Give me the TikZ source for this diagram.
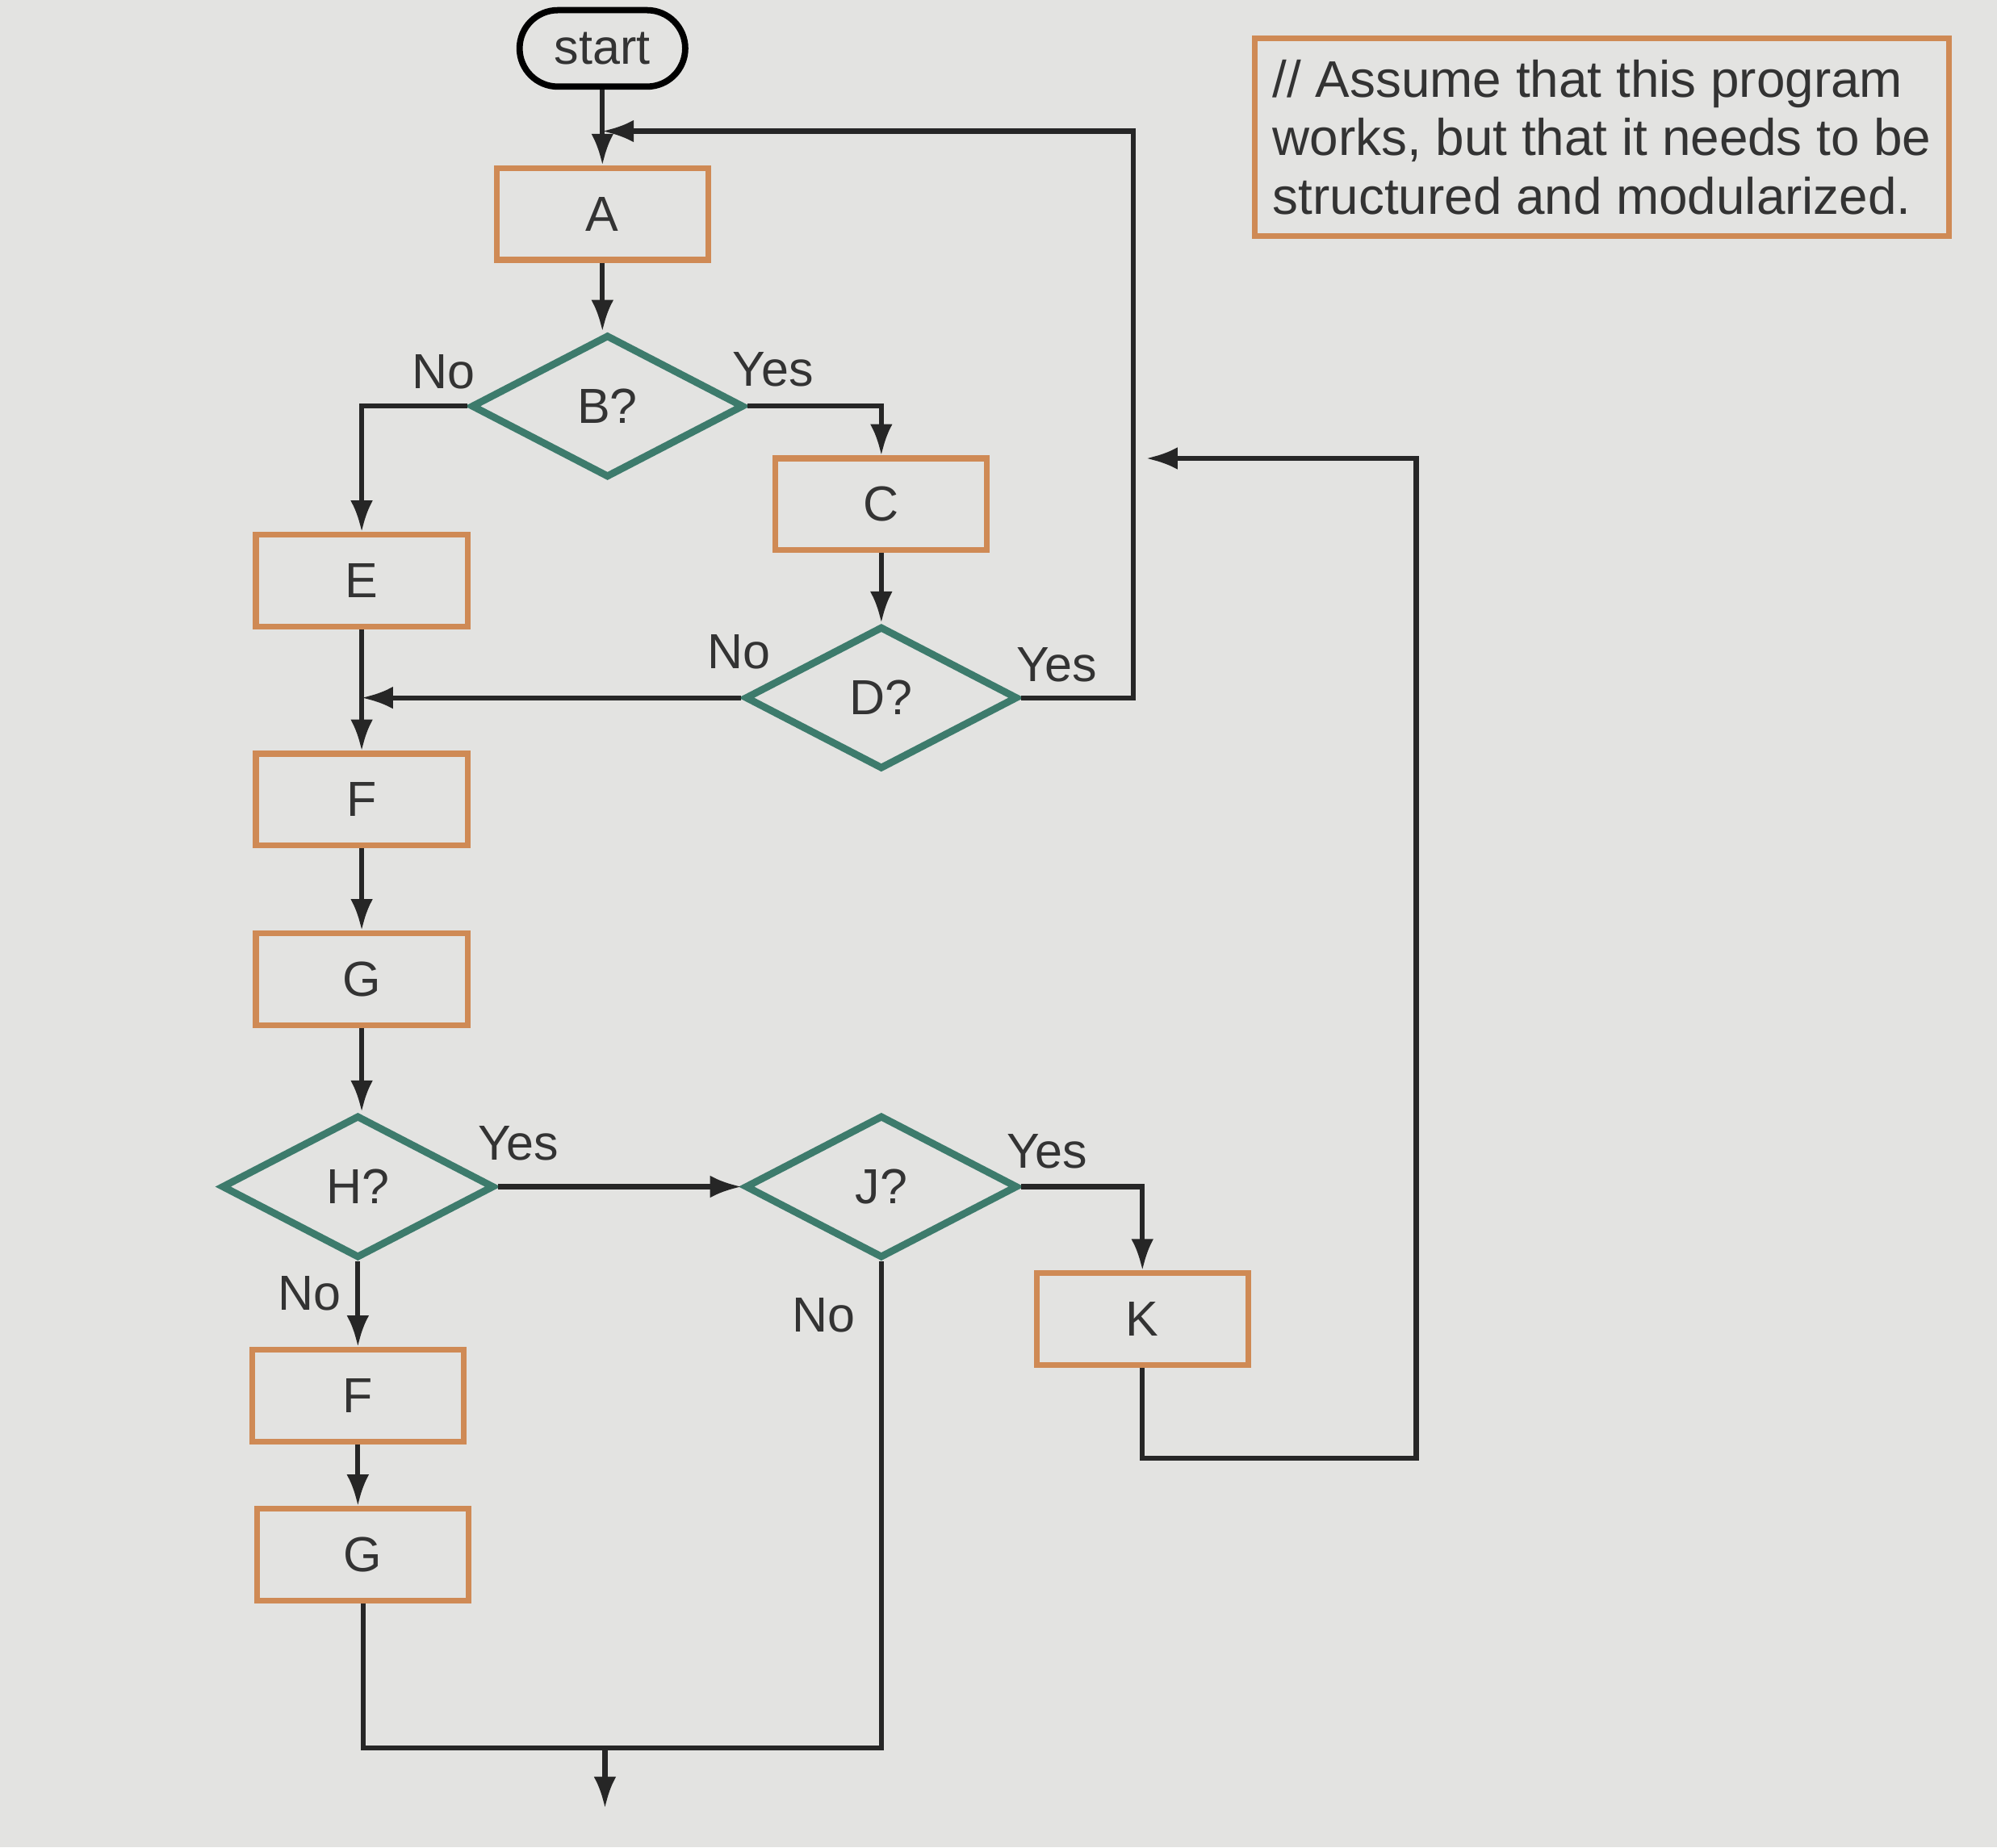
\documentclass[tikz,border=0pt]{standalone}
\usepackage{fontspec}
\setmainfont{Liberation Sans}
\usetikzlibrary{shapes.geometric,arrows.meta}
\definecolor{bg}{HTML}{E3E3E1}
\definecolor{box}{HTML}{CF8A55}
\definecolor{dia}{HTML}{3D7B6C}
\definecolor{ink}{HTML}{333333}
\begin{document}
\begin{tikzpicture}[x=0.01cm,y=-0.01cm,
  every node/.style={font=\fontsize{11}{13}\selectfont,text=ink},
  proc/.style={draw=box,line width=1.3pt,minimum width=1.66cm,minimum height=0.72cm,inner sep=0pt},
  dec/.style={draw=dia,line width=1.6pt,diamond,aspect=1.9,minimum width=2.14cm,minimum height=1.12cm,inner sep=0pt},
  term/.style={draw=black,line width=1.4pt,rounded corners=0.3cm,minimum width=1.3cm,minimum height=0.6cm},
  lbl/.style={font=\fontsize{11}{13}\selectfont},
  ln/.style={draw=black!85,line width=1.1pt},
  ar/.style={ln,-{Latex[length=7pt,width=5pt]}}]
\useasboundingbox (0,0) rectangle (1568,1451);
\fill[bg] (0,0) rectangle (1568,1451);
\node[term] (start) at (473,38) {start};
\node[proc] (A) at (473,168) {A};
\node[dec] (B) at (477,319) {B?};
\node[proc] (C) at (692,396) {C};
\node[dec] (D) at (692,548) {D?};
\node[proc] (E) at (284,456) {E};
\node[proc] (F) at (284,628) {F};
\node[proc] (G) at (284,769) {G};
\node[dec] (H) at (281,932) {H?};
\node[dec] (J) at (692,932) {J?};
\node[proc] (K) at (897,1036) {K};
\node[proc] (F2) at (281,1096) {F};
\node[proc] (G2) at (285,1221) {G};
\node[draw=box,line width=1.3pt,minimum width=4.9cm,minimum height=1.55cm,align=left,inner sep=4pt,anchor=north west] (note) at (983,28)
  {\fontsize{11.5}{13.6}\selectfont // Assume that this program\\ \fontsize{11.5}{13.6}\selectfont works, but that it needs to be\\ \fontsize{11.5}{13.6}\selectfont structured and modularized.};
\coordinate (m1) at (473,103);
\coordinate (m2) at (284,548);
\coordinate (m3) at (900,360);
\coordinate (j1) at (475,1373);
\coordinate (out) at (475,1420);
\draw[ar] (start) -- (A);
\draw[ar] (D.east) -- (890,548) -- (890,103) -- (m1);
\draw[ar] (A) -- (A|-B.north);
\draw[ar] (B.west) -| (E.north);
\draw[ar] (B.east) -| (C.north);
\draw[ar] (C) -- (D);
\draw[ar] (D.west) -- (m2);
\draw[ar] (E) -- (F);
\draw[ar] (F) -- (G);
\draw[ar] (G) -- (G|-H.north);
\draw[ar] (H.east) -- (J.west);
\draw[ar] (J.east) -| (K.north);
\draw[ar] (K.south) -- (897,1145) -- (1112,1145) -- (1112,360) -- (m3);
\draw[ar] (H.south) -- (H.south|-F2.north);
\draw[ar] (F2) -- (F2|-G2.north);
\draw[ln] (G2.south) -- (285,1373) -- (692,1373) -- (J.south);
\draw[ar] (j1) -- (out);
\node[lbl] at (348,292) {No};
\node[lbl] at (607,290) {Yes};
\node[lbl] at (580,512) {No};
\node[lbl] at (830,522) {Yes};
\node[lbl] at (407,898) {Yes};
\node[lbl] at (822,904) {Yes};
\node[lbl] at (243,1016) {No};
\node[lbl] at (647,1033) {No};
\end{tikzpicture}
\end{document}
